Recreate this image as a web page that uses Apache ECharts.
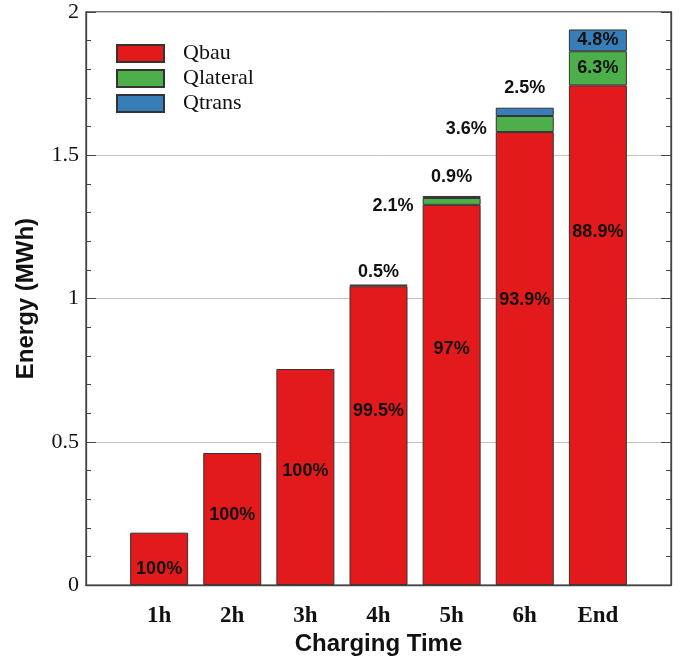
<!DOCTYPE html>
<html>
<head>
<meta charset="utf-8">
<script src="https://cdn.jsdelivr.net/npm/echarts@6/dist/echarts.min.js"></script>
<style>html,body{margin:0;padding:0;background:#fff}#c{width:680px;height:661px}</style>
</head>
<body>
<div id="c"></div>
<script>
// ---- data ----
const categories = ['1h', '2h', '3h', '4h', '5h', '6h', 'End'];
const qbau     = [0.183, 0.461, 0.754, 1.043, 1.327, 1.581, 1.744];
const qlateral = [0, 0, 0, 0.006, 0.024, 0.056, 0.119];
const qtrans   = [0, 0, 0, 0, 0.007, 0.029, 0.076];
const pctBau     = ['100%', '100%', '100%', '99.5%', '97%', '93.9%', '88.9%'];
const pctLateral = ['', '', '', '0.5%', '2.1%', '3.6%', '6.3%'];
const pctTrans   = ['', '', '', '', '0.9%', '2.5%', '4.8%'];
const yTicks = [0, 0.5, 1, 1.5, 2];

// ---- layout / style (not data) ----
const bauLabelAt = ['69%', '47%', '47%', '41.7%', '38%', '37%', '29.3%'];
const latLabelCfg = [null, null, null,
  {position: 'top', distance: 3},
  {position: 'left', distance: 9, offset: [0, 5]},
  {position: 'left', distance: 9, offset: [0, 5]},
  {position: 'inside'}];
const transLabelCfg = [null, null, null, null,
  {position: 'top', distance: 10},
  {position: 'top', distance: 11},
  {position: 'inside'}];

const labelFont = {fontFamily: 'Liberation Sans, Arial, sans-serif', fontWeight: 'bold', fontSize: 18, color: '#111'};
const border = {borderColor: '#333', borderWidth: 1};

const padCats = [''].concat(categories, ['']);
function build(values, texts, cfgFn) {
  const out = [null];
  values.forEach((v, i) => {
    if (!v) { out.push(null); return; }
    const item = {value: v};
    const cfg = cfgFn(i);
    if (cfg && texts[i]) {
      item.label = Object.assign({show: true, formatter: texts[i]}, labelFont, cfg);
    }
    out.push(item);
  });
  out.push(null);
  return out;
}

const chart = echarts.init(document.getElementById('c'));
chart.setOption({
  animation: false,
  backgroundColor: '#fff',
  grid: {left: 86, right: 9, top: 12, bottom: 74.5, show: true, borderColor: '#444', borderWidth: 1.3, backgroundColor: 'transparent'},
  legend: {
    orient: 'vertical', left: 111, top: 37.5, itemWidth: 47, itemHeight: 17, itemGap: 3,
    icon: 'rect',
    data: ['Qbau', 'Qlateral', 'Qtrans'],
    textStyle: {fontFamily: 'Liberation Serif, Times New Roman, serif', fontSize: 22, lineHeight: 22, color: '#111', padding: [0, 0, 0, 14]}
  },
  xAxis: {
    type: 'category', data: padCats, boundaryGap: false,
    name: 'Charging Time', nameLocation: 'middle', nameGap: 45,
    nameTextStyle: {fontFamily: 'Liberation Sans, Arial, sans-serif', fontWeight: 'bold', fontSize: 24, color: '#111'},
    axisLine: {lineStyle: {color: '#444', width: 1.3}},
    axisTick: {show: false},
    axisLabel: {interval: 0, margin: 19, fontFamily: 'Liberation Serif, Times New Roman, serif', fontWeight: 'bold', fontSize: 23, color: '#111'},
    splitLine: {show: false}
  },
  yAxis: [{
    type: 'value', min: yTicks[0], max: yTicks[yTicks.length - 1], interval: yTicks[1] - yTicks[0],
    name: 'Energy (MWh)', nameLocation: 'middle', nameGap: 48,
    nameTextStyle: {fontFamily: 'Liberation Sans, Arial, sans-serif', fontWeight: 'bold', fontSize: 24, color: '#111'},
    axisLine: {show: true, lineStyle: {color: '#444', width: 1.3}},
    axisTick: {show: true, inside: true, length: 10, lineStyle: {color: '#444'}},
    minorTick: {show: true, splitNumber: 5, length: 5, lineStyle: {color: '#444'}},
    axisLabel: {margin: 7, fontFamily: 'Liberation Serif, Times New Roman, serif', fontSize: 22, color: '#111',
      formatter: v => String(v)},
    splitLine: {show: true, lineStyle: {color: '#c4c4c4', width: 1}}
  }, {
    type: 'value', position: 'right', min: yTicks[0], max: yTicks[yTicks.length - 1], interval: yTicks[1] - yTicks[0],
    axisLine: {show: true, lineStyle: {color: '#444', width: 1.3}},
    axisTick: {show: true, inside: true, length: 10, lineStyle: {color: '#444'}},
    minorTick: {show: true, splitNumber: 5, length: 5, lineStyle: {color: '#444'}},
    axisLabel: {show: false},
    splitLine: {show: false}
  }],
  series: [
    {name: 'Qbau', type: 'bar', stack: 'e', barWidth: 58,
     itemStyle: Object.assign({color: '#E31A1C'}, border),
     data: build(qbau, pctBau, i => ({position: ['50%', bauLabelAt[i]], align: 'center', verticalAlign: 'middle'}))},
    {name: 'Qlateral', type: 'bar', stack: 'e', barWidth: 58,
     itemStyle: Object.assign({color: '#4DAF4A'}, border),
     data: build(qlateral, pctLateral, i => latLabelCfg[i])},
    {name: 'Qtrans', type: 'bar', stack: 'e', barWidth: 58,
     itemStyle: Object.assign({color: '#377EB8'}, border),
     data: build(qtrans, pctTrans, i => transLabelCfg[i])}
  ]
});
</script>
</body>
</html>
